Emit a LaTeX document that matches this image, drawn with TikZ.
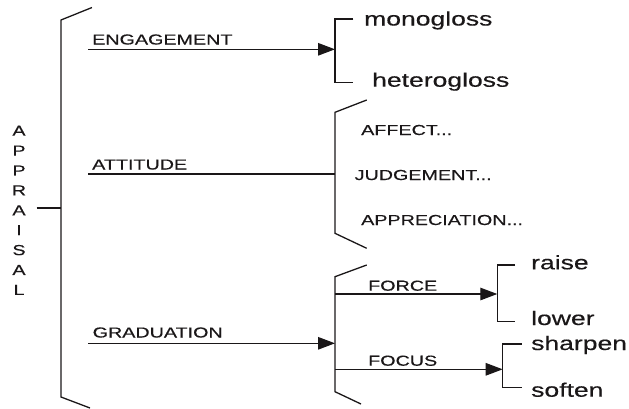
\documentclass[tikz,border=0pt]{standalone}
\usepackage{fontspec}
\setmainfont{Liberation Sans}[FakeStretch=1.36,FakeBold=0.4]
\usetikzlibrary{arrows.meta}
\definecolor{ink}{HTML}{1A1718}
\tikzset{
  ln/.style={draw=ink, line width=1.3pt},
  arr/.style={ln, -{Triangle[length=17pt,width=12.5pt]}},
  uptxt/.style={anchor=base west, inner sep=0pt, text=ink, font=\fontsize{14.5}{17}\selectfont},
  lowtxt/.style={anchor=base west, inner sep=0pt, text=ink, font=\fontsize{19.5}{22}\selectfont},
}
\begin{document}
\begin{tikzpicture}[x=1pt,y=-1pt]
\useasboundingbox (0,0) rectangle (629,408);

% APPRAISAL vertical label
\node[uptxt, anchor=north, align=center, font=\fontsize{14.5}{19.9}\selectfont] (appraisal) at (19,125.5) {A\\P\\P\\R\\A\\I\\S\\A\\L};
\coordinate (stemA) at (36.7,208);
\coordinate (stemB) at (61,208);
\draw[ln] (stemA) -- (stemB);

% big bracket
\coordinate (bigT) at (61,20);
\coordinate (bigB) at (61,397);
\draw[ln] (92,7.5) -- (bigT) -- (bigB) -- (90,408);

% ENGAGEMENT
\node[uptxt] (eng) at (92,44.5) {ENGAGEMENT};
\coordinate (engS) at (88.3,49.3);
\coordinate (engE) at (335,49.3);
\draw[arr] (engS) -- (engE);
\coordinate (monoT) at (335,19);
\coordinate (monoB) at (335,82.7);
\draw[ln] (353.3,19) -- (monoT) -- (monoB) -- (353.3,82.7);
\node[lowtxt] (mono) at (364,25.5) {monogloss};
\node[lowtxt] (hetero) at (372,86.7) {heterogloss};

% ATTITUDE
\node[uptxt] (att) at (92,169.5) {ATTITUDE};
\coordinate (attS) at (88.3,174);
\coordinate (attE) at (335,174);
\draw[ln] (attS) -- (attE);
\coordinate (attT) at (335,112.3);
\coordinate (attB) at (335,233.3);
\draw[ln] (366.7,100) -- (attT) -- (attB) -- (366.7,248.3);
\node[uptxt] (affect) at (361,135) {AFFECT...};
\node[uptxt] (judge) at (354.5,180) {JUDGEMENT...};
\node[uptxt] (apprec) at (361,225) {APPRECIATION...};

% GRADUATION
\node[uptxt] (grad) at (92.5,337.5) {GRADUATION};
\coordinate (gradS) at (88.3,343.3);
\coordinate (gradE) at (335,343.3);
\draw[arr] (gradS) -- (gradE);
\coordinate (gradT) at (335,276.7);
\coordinate (gradB) at (335,391.7);
\draw[ln] (366.7,265) -- (gradT) -- (gradB) -- (361,404);

% FORCE
\node[uptxt] (force) at (368,290.7) {FORCE};
\coordinate (forceS) at (335,294);
\coordinate (forceE) at (497.3,294);
\draw[arr] (forceS) -- (forceE);
\coordinate (raiseT) at (497.3,265);
\coordinate (raiseB) at (497.3,321.7);
\draw[ln] (515,265) -- (raiseT) -- (raiseB) -- (515,321.7);
\node[lowtxt] (raise) at (531,269.3) {raise};
\node[lowtxt] (lower) at (531,325) {lower};

% FOCUS
\node[uptxt] (focus) at (368,365.7) {FOCUS};
\coordinate (focusS) at (335,369.3);
\coordinate (focusE) at (502.7,369.3);
\draw[arr] (focusS) -- (focusE);
\coordinate (sharpT) at (502.7,344);
\coordinate (sharpB) at (502.7,387.3);
\draw[ln] (521.7,344) -- (sharpT) -- (sharpB) -- (521.7,387.3);
\node[lowtxt] (sharpen) at (531,350) {sharpen};
\node[lowtxt] (soften) at (531,396.7) {soften};
\end{tikzpicture}
\end{document}
